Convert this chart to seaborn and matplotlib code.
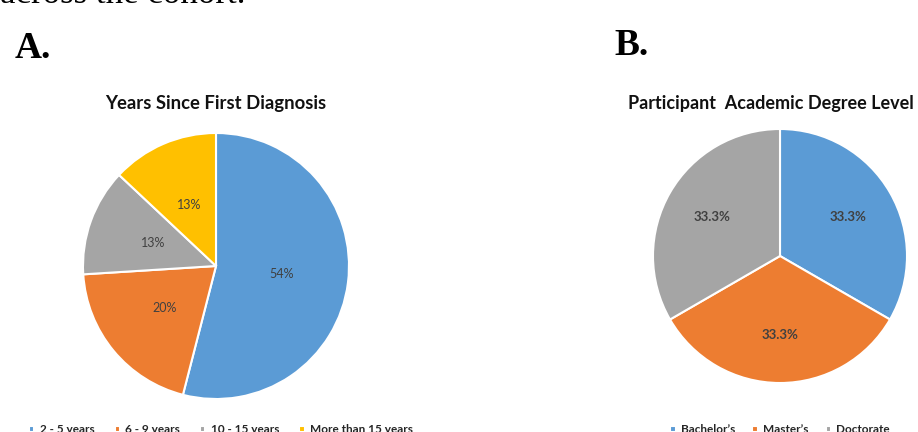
import matplotlib
matplotlib.use("Agg")
import matplotlib.pyplot as plt
import seaborn as sns

# Panel A: years since first diagnosis
years_labels = ["2 - 5 years", "6 - 9 years", "10 - 15 years", "More than 15 years"]
years_pct = [54, 20, 13, 13]

# Panel B: academic degree level
degree_labels = ["Bachelor\u2019s", "Master\u2019s", "Doctorate"]
degree_pct = [33.3, 33.3, 33.3]

office_colors = ["#5B9BD5", "#ED7D31", "#A5A5A5", "#FFC000"]

sns.set_theme(style="white")
plt.rcParams["font.family"] = ["Lato", "DejaVu Sans"]

W, H = 918, 432
fig = plt.figure(figsize=(W / 100, H / 100), dpi=100)


def pie_axes(cx, cy, r):
    # axes box in pixel units (origin top-left), converted to figure fraction
    return fig.add_axes([(cx - r) / W, (H - cy - r) / H, 2 * r / W, 2 * r / H])


palette = sns.color_palette(office_colors)

# ---- Panel A ----
axA = pie_axes(216, 266, 133)
wedgesA, _, autoA = axA.pie(
    years_pct, colors=palette[:4], startangle=90, counterclock=False,
    autopct=lambda p: f"{p:.0f}%", pctdistance=0.5,
    wedgeprops=dict(edgecolor="white", linewidth=1.5),
    textprops=dict(color="#404040", fontsize=9),
)
axA.set_xlim(-1, 1)
axA.set_ylim(-1, 1)
axA.set_aspect("equal")
axA.axis("off")

fig.text(216 / W, 1 - 103 / H, "Years Since First Diagnosis", ha="center", va="center",
         fontsize=13.3, fontweight="bold", color="#111111")
fig.legend(wedgesA, years_labels, loc="center", bbox_to_anchor=(221 / W, 1 - 429.5 / H),
           ncol=4, frameon=False, handlelength=0.45, handleheight=0.45,
           columnspacing=1.7, handletextpad=0.45, prop=dict(weight="bold", size=8.5))

# ---- Panel B ----
axB = pie_axes(780, 256, 127)
wedgesB, _, autoB = axB.pie(
    degree_pct, colors=palette[:3], startangle=90, counterclock=False,
    autopct=lambda p: f"{p:.1f}%", pctdistance=0.62,
    wedgeprops=dict(edgecolor="white", linewidth=1.5),
    textprops=dict(color="#404040", fontsize=9.5, fontweight="bold"),
)
axB.set_xlim(-1, 1)
axB.set_ylim(-1, 1)
axB.set_aspect("equal")
axB.axis("off")

fig.text(628 / W, 1 - 103 / H, "Participant  Academic Degree Level", ha="left", va="center",
         fontsize=13, fontweight="bold", color="#111111")
fig.legend(wedgesB, degree_labels, loc="center", bbox_to_anchor=(780 / W, 1 - 429.5 / H),
           ncol=3, frameon=False, handlelength=0.45, handleheight=0.45,
           columnspacing=1.45, handletextpad=0.45, prop=dict(weight="bold", size=8.5))

# Panel letters and the surrounding manuscript line
serif = ["Liberation Serif", "DejaVu Serif"]
fig.text(15 / W, 1 - 58 / H, "A.", ha="left", va="baseline", fontsize=27,
         fontweight="bold", family=serif, color="black")
fig.text(614 / W, 1 - 55 / H, "B.", ha="left", va="baseline", fontsize=27,
         fontweight="bold", family=serif, color="black")
fig.text(0 / W, 1 - 3 / H, "across the cohort.", ha="left", va="baseline", fontsize=25,
         family=serif, color="black")

fig.savefig("out.png", dpi=100)
